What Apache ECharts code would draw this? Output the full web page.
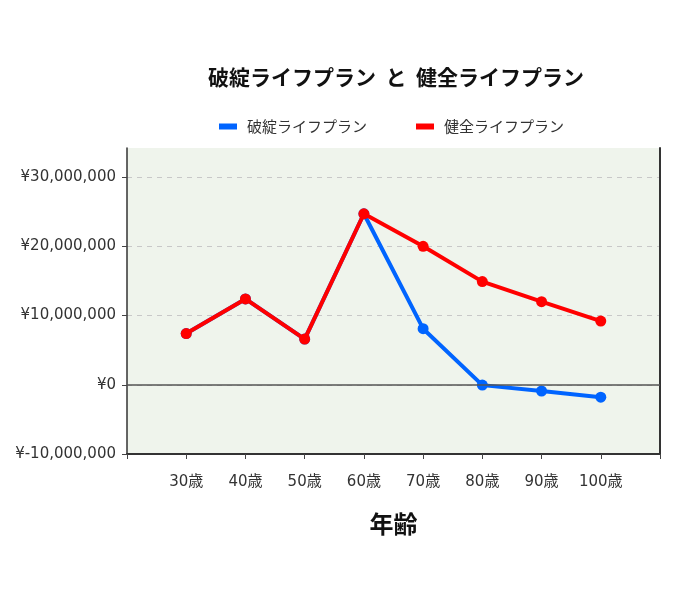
<!DOCTYPE html>
<html>
<head>
<meta charset="utf-8">
<script src="https://cdn.jsdelivr.net/npm/echarts@6/dist/echarts.min.js"></script>
<style>html,body{margin:0;padding:0;background:#fff}#c{width:680px;height:598px}</style>
</head>
<body>
<div id="c"></div>
<script>
var categories = ['', '30歳', '40歳', '50歳', '60歳', '70歳', '80歳', '90歳', '100歳', ''];
var hatanValues = [null, 7400000, 12400000, 6600000, 24700000, 8100000, -50000, -900000, -1800000, null];
var kenzenValues = [null, 7400000, 12400000, 6600000, 24700000, 20000000, 14900000, 12000000, 9200000, null];
var yTicks = [-10000000, 0, 10000000, 20000000, 30000000];
var seriesNames = ['破綻ライフプラン', '健全ライフプラン'];
var titleText = '破綻ライフプラン  と  健全ライフプラン';
var xName = '年齢';

var FONT = '"Noto Sans CJK JP", "Noto Sans", sans-serif';
var NUMFONT = '"DejaVu Sans", "Noto Sans CJK JP", sans-serif';
function yen(v) {
  var s = Math.abs(v).toString().replace(/\B(?=(\d{3})+(?!\d))/g, ',');
  return '¥' + (v < 0 ? '-' : '') + s;
}
var chart = echarts.init(document.getElementById('c'), null, {renderer: 'canvas'});
chart.setOption({
  backgroundColor: '#fff',
  animation: false,
  textStyle: {fontFamily: FONT},
  title: {
    text: titleText, left: 391, top: 62, textAlign: 'center',
    textStyle: {fontSize: 21, fontWeight: 'bold', color: '#111', fontFamily: FONT}
  },
  legend: {
    top: 114, left: 214, itemWidth: 18, itemHeight: 6, itemGap: 49,
    icon: 'rect',
    textStyle: {fontSize: 15, color: '#333', fontFamily: FONT, padding: [0, 0, 0, 5]},
    data: seriesNames
  },
  grid: {
    left: 127, right: 20, top: 148, bottom: 144,
    show: true, backgroundColor: '#eff4ec', borderWidth: 0
  },
  xAxis: {
    type: 'category', data: categories, boundaryGap: false,
    name: xName, nameLocation: 'middle', nameGap: 58,
    nameTextStyle: {fontSize: 24, fontWeight: 'bold', color: '#111', fontFamily: FONT},
    axisLine: {onZero: false, lineStyle: {color: '#333', width: 2}},
    axisTick: {show: true, length: 5, lineStyle: {color: '#444'}, interval: 0},
    axisLabel: {fontSize: 15, color: '#333', margin: 21, interval: 0, fontFamily: NUMFONT},
    splitLine: {show: false}
  },
  yAxis: [{
    type: 'value', min: -10000000, max: 34200000,
    axisLine: {show: true, lineStyle: {color: '#333', width: 1.5}},
    axisTick: {show: true, length: 5, customValues: yTicks, lineStyle: {color: '#444'}},
    axisLabel: {fontSize: 15, color: '#333', margin: 11, customValues: yTicks, formatter: yen, fontFamily: NUMFONT},
    splitLine: {show: true, lineStyle: {color: '#c8c8c8', type: [5, 5], width: 1}}
  }, {
    type: 'value', min: -10000000, max: 34200000, position: 'right',
    axisLine: {show: true, lineStyle: {color: '#333', width: 2}},
    axisTick: {show: false}, axisLabel: {show: false}, splitLine: {show: false}
  }],
  series: [{
    name: seriesNames[0], type: 'line', data: hatanValues,
    color: '#0064ff', lineStyle: {width: 4, color: '#0064ff'},
    itemStyle: {color: '#0064ff'},
    symbol: 'circle', symbolSize: 11, showSymbol: true,
    markLine: {
      silent: true, symbol: 'none', label: {show: false}, animation: false,
      lineStyle: {color: '#555', type: 'solid', width: 1.5},
      data: [{yAxis: 0}]
    },
    z: 3
  }, {
    name: seriesNames[1], type: 'line', data: kenzenValues,
    color: '#ff0000', lineStyle: {width: 4, color: '#ff0000'},
    itemStyle: {color: '#ff0000'},
    symbol: 'circle', symbolSize: 11, showSymbol: true,
    z: 4
  }]
});
</script>
</body>
</html>
